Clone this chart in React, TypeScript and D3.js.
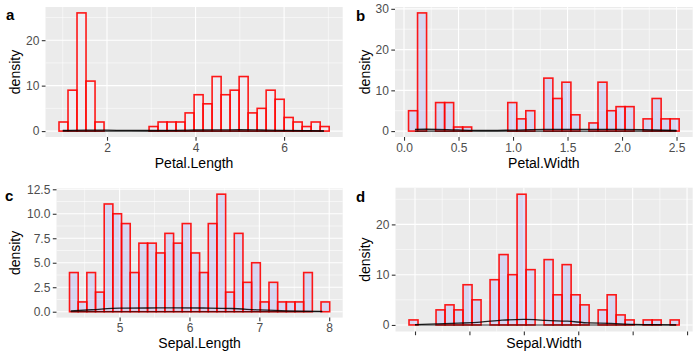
import React, { useEffect, useRef } from 'react';
import * as d3 from 'd3';

// Bin counts (30 bins per variable)
const petalLengthCounts = [2, 9, 26, 11, 2, 0, 0, 0, 0, 0, 1, 2, 2, 2, 4, 8, 6, 12, 8, 9, 12, 4, 5, 9, 7, 3, 2, 1, 2, 1];
const petalWidthCounts = [5, 29, 0, 7, 7, 1, 1, 0, 0, 0, 0, 7, 3, 5, 0, 13, 8, 12, 4, 0, 2, 12, 5, 6, 6, 0, 3, 8, 3, 3];
const sepalLengthCounts = [4, 1, 4, 2, 11, 10, 9, 4, 7, 7, 6, 8, 7, 9, 6, 4, 9, 12, 2, 8, 3, 5, 1, 3, 1, 1, 1, 4, 0, 1];
const sepalWidthCounts = [1, 0, 0, 3, 4, 3, 8, 5, 0, 9, 14, 10, 26, 11, 0, 13, 6, 12, 6, 4, 0, 3, 6, 2, 1, 0, 1, 1, 0, 1];

// data ranges (min, max) of each variable
const petalLengthRange = [1.0, 6.9];
const petalWidthRange = [0.1, 2.5];
const sepalLengthRange = [4.3, 7.9];
const sepalWidthRange = [2.0, 4.4];

// density curves (approximate)
const petalLengthDensX = [1.0, 1.5, 2.0, 2.5, 3.0, 3.5, 4.0, 4.5, 5.0, 5.5, 6.0, 6.5, 6.9];
const petalLengthDensY = [0.15, 0.22, 0.2, 0.14, 0.13, 0.17, 0.24, 0.28, 0.29, 0.24, 0.16, 0.09, 0.05];
const petalWidthDensX = [0.1, 0.2, 0.4, 0.6, 0.8, 1.0, 1.3, 1.6, 1.9, 2.2, 2.5];
const petalWidthDensY = [0.4, 0.45, 0.38, 0.2, 0.14, 0.25, 0.42, 0.43, 0.42, 0.33, 0.15];
const sepalLengthDensX = [4.3, 4.6, 5.0, 5.4, 5.8, 6.2, 6.6, 7.0, 7.4, 7.9];
const sepalLengthDensY = [0.08, 0.2, 0.37, 0.38, 0.4, 0.38, 0.33, 0.18, 0.08, 0.04];
const sepalWidthDensX = [2.0, 2.2, 2.4, 2.6, 2.8, 3.0, 3.1, 3.2, 3.4, 3.6, 3.8, 4.0, 4.2, 4.4];
const sepalWidthDensY = [0.06, 0.2, 0.35, 0.55, 0.95, 1.1, 1.05, 0.9, 0.75, 0.4, 0.33, 0.12, 0.07, 0.03];

// tick values
const petalLengthTicks = [2, 4, 6];
const petalWidthTicks = [0, 0.5, 1.0, 1.5, 2.0, 2.5];
const sepalLengthTicks = [5, 6, 7, 8];
const sepalWidthTicks = [2.0, 2.5, 3.0, 3.5, 4.0, 4.5];
const yTicks20 = [0, 10, 20];
const yTicks30 = [0, 10, 20, 30];
const yTicks12 = [0, 2.5, 5, 7.5, 10, 12.5];

const FONT = '"Liberation Sans", Arial, Helvetica, sans-serif';

const panels = [
  { label: 'a', title: 'Petal.Length', counts: petalLengthCounts, range: petalLengthRange,
    dx: petalLengthDensX, dy: petalLengthDensY, xt: petalLengthTicks, yt: yTicks20, xfmt: d3.format('d'), yfmt: d3.format('d'),
    showX: true, fill: 'rgba(240,240,255,0.35)', box: { l: 45.5, r: 342.7, t: 7, b: 137 }, ox: 0, lx: 6, ly: 20, titleY: 168 },
  { label: 'b', title: 'Petal.Width', counts: petalWidthCounts, range: petalWidthRange,
    dx: petalWidthDensX, dy: petalWidthDensY, xt: petalWidthTicks, yt: yTicks30, xfmt: d3.format('.1f'), yfmt: d3.format('d'),
    showX: true, fill: 'rgba(153,153,255,0.25)', box: { l: 395, r: 692.7, t: 7, b: 137 }, ox: 350, lx: 356, ly: 20.5, titleY: 168 },
  { label: 'c', title: 'Sepal.Length', counts: sepalLengthCounts, range: sepalLengthRange,
    dx: sepalLengthDensX, dy: sepalLengthDensY, xt: sepalLengthTicks, yt: yTicks12, xfmt: d3.format('d'), yfmt: d3.format('.1f'),
    showX: true, fill: 'rgba(153,153,255,0.25)', box: { l: 56.5, r: 342.7, t: 188.3, b: 317.6 }, ox: 0, lx: 5, ly: 201, titleY: 348 },
  { label: 'd', title: 'Sepal.Width', counts: sepalWidthCounts, range: sepalWidthRange,
    dx: sepalWidthDensX, dy: sepalWidthDensY, xt: sepalWidthTicks, yt: yTicks20, xfmt: d3.format('.1f'), yfmt: d3.format('d'),
    showX: false, fill: 'rgba(153,153,255,0.25)', box: { l: 395.5, r: 692.7, t: 187.7, b: 331.5 }, ox: 350, lx: 356, ly: 201.5, titleY: 348 },
];

// ggplot2 style bin breaks for bins = 30
const binBreaks = (range: number[], n: number) => {
  const w = (range[1] - range[0]) / (n - 1);
  const boundary = w / 2;
  const origin = boundary + Math.floor((range[0] - boundary) / w) * w;
  return d3.range(n + 1).map(i => origin + i * w);
};

const minorsOf = (ticks: number[]) => {
  const step = ticks[1] - ticks[0];
  return [ticks[0] - step / 2, ...ticks.map(t => t + step / 2)];
};

const App = () => {
  const ref = useRef<SVGSVGElement>(null);

  useEffect(() => {
    const svg = d3.select(ref.current);
    svg.selectAll('*').remove();

    panels.forEach(p => {
      const { l, r, t, b } = p.box;
      const breaks = binBreaks(p.range, p.counts.length);
      const lo = breaks[0], hi = breaks[breaks.length - 1];
      const xpad = (hi - lo) * 0.05;
      const maxC = d3.max(p.counts) as number;
      const x = d3.scaleLinear().domain([lo - xpad, hi + xpad]).range([l, r]);
      const y = d3.scaleLinear().domain([-maxC * 0.05, maxC * 1.05]).range([b, t]);

      const g = svg.append('g');

      // panel background
      g.append('rect').attr('x', l).attr('y', t).attr('width', r - l).attr('height', b - t).attr('fill', '#EBEBEB');

      const [x0, x1] = x.domain();
      const [y0, y1] = y.domain();
      const xMinor = minorsOf(p.xt).filter(v => v > x0 && v < x1);
      const yMinor = minorsOf(p.yt).filter(v => v > y0 && v < y1);

      g.selectAll('.vminor').data(xMinor).enter().append('line')
        .attr('x1', d => x(d)).attr('x2', d => x(d)).attr('y1', t).attr('y2', b)
        .attr('stroke', 'white').attr('stroke-width', 0.55);
      g.selectAll('.hminor').data(yMinor).enter().append('line')
        .attr('x1', l).attr('x2', r).attr('y1', d => y(d)).attr('y2', d => y(d))
        .attr('stroke', 'white').attr('stroke-width', 0.55);
      g.selectAll('.vmajor').data(p.xt).enter().append('line')
        .attr('x1', d => x(d)).attr('x2', d => x(d)).attr('y1', t).attr('y2', b)
        .attr('stroke', 'white').attr('stroke-width', 1.1);
      g.selectAll('.hmajor').data(p.yt).enter().append('line')
        .attr('x1', l).attr('x2', r).attr('y1', d => y(d)).attr('y2', d => y(d))
        .attr('stroke', 'white').attr('stroke-width', 1.1);

      // bars
      const bins = p.counts.map((c, i) => ({ c, x0: breaks[i], x1: breaks[i + 1] }));
      g.selectAll('.bar').data(bins).enter().append('rect')
        .attr('x', d => x(d.x0))
        .attr('y', d => y(d.c))
        .attr('width', d => x(d.x1) - x(d.x0))
        .attr('height', d => y(0) - y(d.c))
        .attr('fill', p.fill)
        .attr('stroke', '#FF0000')
        .attr('stroke-opacity', 0.9)
        .attr('stroke-width', 1.6);

      // density
      const pts = p.dx.map((v, i) => [v, p.dy[i]] as [number, number]);
      const line = d3.line<[number, number]>().x(d => x(d[0])).y(d => y(d[1])).curve(d3.curveMonotoneX);
      g.append('path').attr('d', line([[p.dx[0], 0], [p.dx[p.dx.length - 1], 0]]))
        .attr('fill', 'none').attr('stroke', 'black').attr('stroke-width', 1.1).attr('stroke-opacity', 0.8);
      g.append('path').attr('d', line(pts))
        .attr('fill', 'none').attr('stroke', 'black').attr('stroke-width', 1.3).attr('stroke-opacity', 0.85);

      // axes
      const xAxis = g.append('g').attr('transform', `translate(0,${b})`)
        .call(d3.axisBottom(x).tickValues(p.xt).tickSize(3.7).tickPadding(2.5)
          .tickFormat(p.showX ? (p.xfmt as any) : () => ''));
      const yAxis = g.append('g').attr('transform', `translate(${l},0)`)
        .call(d3.axisLeft(y).tickValues(p.yt).tickSize(3.7).tickPadding(2.5).tickFormat(p.yfmt as any));
      [xAxis, yAxis].forEach(a => {
        a.select('.domain').remove();
        a.selectAll('line').attr('stroke', '#333333').attr('stroke-width', 1.1);
        a.selectAll('text').attr('fill', '#4D4D4D').attr('font-size', '12px').attr('font-family', FONT);
      });

      // axis titles
      g.append('text')
        .attr('x', (l + r) / 2).attr('y', p.titleY)
        .attr('text-anchor', 'middle').attr('font-size', '14px').attr('font-family', FONT).attr('fill', 'black')
        .text(p.title);
      g.append('text')
        .attr('transform', `translate(${p.ox + 19.5},${(t + b) / 2}) rotate(-90)`)
        .attr('text-anchor', 'middle').attr('font-size', '14px').attr('font-family', FONT).attr('fill', 'black')
        .text('density');

      // panel tag
      g.append('text')
        .attr('x', p.lx).attr('y', p.ly)
        .attr('font-size', '15px').attr('font-weight', 'bold').attr('font-family', FONT).attr('fill', 'black')
        .text(p.label);
    });
  }, []);

  return (
    <svg ref={ref} width={700} height={361}
      style={{ position: 'absolute', left: 0, top: 0, background: 'white' }} />
  );
};

export default App;
